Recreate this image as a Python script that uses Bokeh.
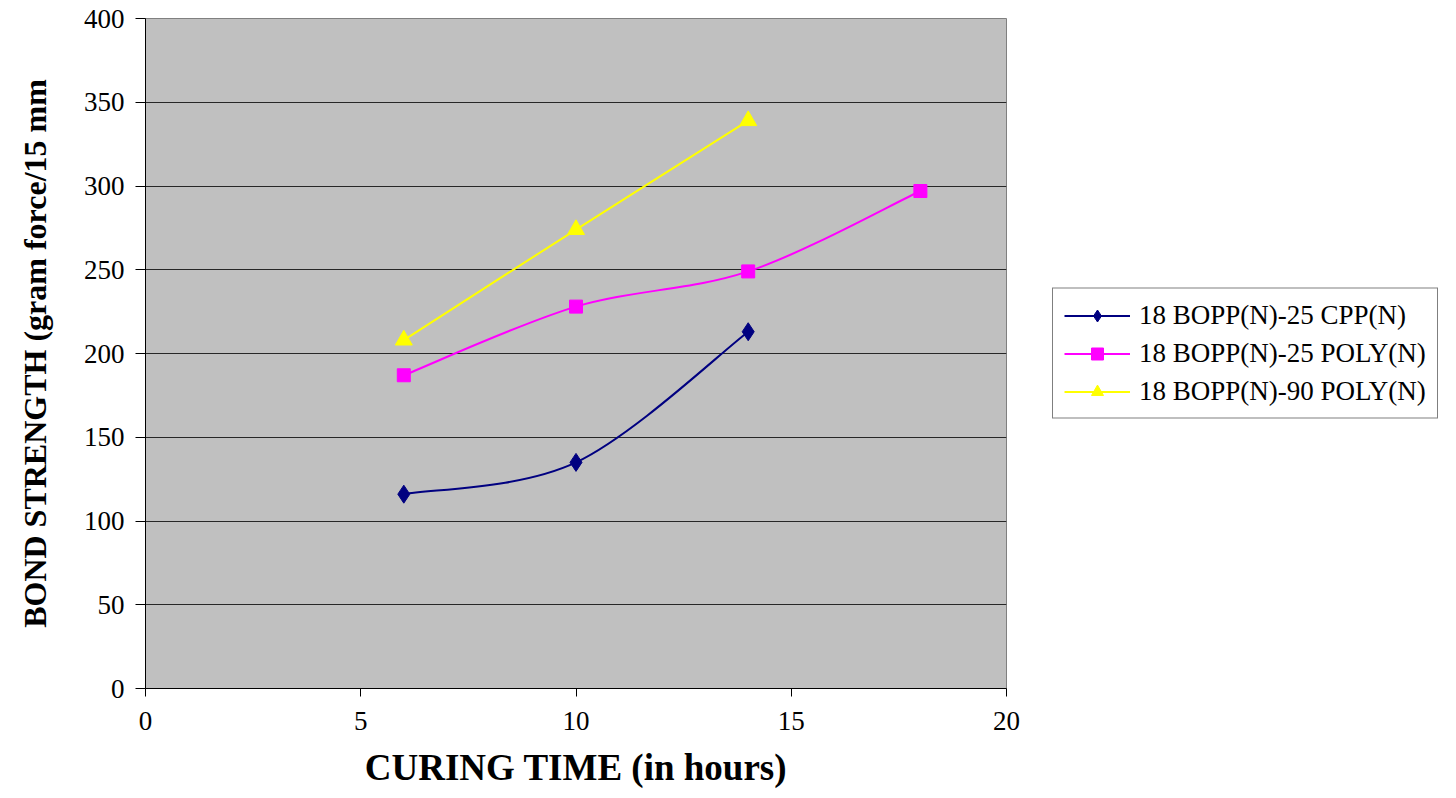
from bokeh.plotting import figure
from bokeh.models import Range1d, FixedTicker, Legend, LegendItem
from bokeh.embed import file_html
from bokeh.resources import INLINE

hours = [6, 10, 14, 18]
cpp25 = [116, 135, 213]
poly25 = [187, 228, 249, 297]
poly90 = [208, 274, 339]
names = ["18 BOPP(N)-25 CPP(N)", "18 BOPP(N)-25 POLY(N)", "18 BOPP(N)-90 POLY(N)"]
colors = ["#000080", "#FF00FF", "#FFFF00"]
x_ticks = [0, 5, 10, 15, 20]
y_ticks = [0, 50, 100, 150, 200, 250, 300, 350, 400]

FONT = "Liberation Serif"

p = figure(frame_width=861, frame_height=670, output_backend="svg", toolbar_location=None,
           x_range=Range1d(0, 20), y_range=Range1d(0, 400),
           min_border_left=145, min_border_right=0, min_border_top=18, min_border_bottom=110)
p.background_fill_color = "#C0C0C0"
p.border_fill_color = "white"
p.outline_line_color = "#808080"
p.xgrid.grid_line_color = None
p.ygrid.grid_line_color = "#000000"
p.ygrid.grid_line_alpha = 0.8

p.xaxis.ticker = FixedTicker(ticks=x_ticks)
p.yaxis.ticker = FixedTicker(ticks=y_ticks)
for ax in (p.xaxis, p.yaxis):
    ax.axis_line_color = "black"
    ax.major_tick_line_color = "black"
    ax.minor_tick_line_color = None
    ax.major_tick_in = 0
    ax.major_label_text_font = FONT
    ax.major_label_text_font_size = "27px"
    ax.major_label_text_color = "black"
    ax.axis_label_text_font = FONT
    ax.axis_label_text_font_style = "bold"
    ax.axis_label_text_color = "black"
p.yaxis.major_tick_out = 10
p.yaxis.major_label_standoff = 11
p.yaxis.axis_label = "BOND STRENGTH (gram force/15 mm"
p.yaxis.axis_label_text_font_size = "32px"
p.yaxis.axis_label_standoff = 28
p.xaxis.major_tick_out = 8
p.xaxis.major_label_standoff = 15
p.xaxis.axis_label = "CURING TIME (in hours)"
p.xaxis.axis_label_text_font_size = "37px"
p.xaxis.axis_label_standoff = 14


def smooth(xs, ys):
    n = len(xs)
    x0, y0, x1, y1, cx0, cy0, cx1, cy1 = [], [], [], [], [], [], [], []
    for i in range(n - 1):
        pxm, pym = (xs[i - 1], ys[i - 1]) if i > 0 else (xs[i], ys[i])
        pxp, pyp = (xs[i + 2], ys[i + 2]) if i + 2 < n else (xs[i + 1], ys[i + 1])
        x0.append(xs[i]); y0.append(ys[i])
        x1.append(xs[i + 1]); y1.append(ys[i + 1])
        cx0.append(xs[i] + (xs[i + 1] - pxm) / 6.0)
        cy0.append(ys[i] + (ys[i + 1] - pym) / 6.0)
        cx1.append(xs[i + 1] - (pxp - xs[i]) / 6.0)
        cy1.append(ys[i + 1] - (pyp - ys[i]) / 6.0)
    return dict(x0=x0, y0=y0, x1=x1, y1=y1, cx0=cx0, cy0=cy0, cx1=cx1, cy1=cy1)


series = [cpp25, poly25, poly90]
markers = ["diamond", "square", "triangle"]
msizes = [18, 13, 17]
items = []
for vals, name, col, mk, ms in zip(series, names, colors, markers, msizes):
    xs = hours[:len(vals)]
    p.bezier(line_color=col, line_width=2, **smooth(xs, vals))
    # single-point line: draws nothing on the plot, provides the legend line
    lg_line = p.line(xs[:1], vals[:1], line_color=col, line_width=2)
    sc = p.scatter(xs, vals, marker=mk, size=ms, fill_color=col, line_color=col)
    items.append(LegendItem(label=name, renderers=[lg_line, sc]))

legend = Legend(items=items, location="center_left")
legend.label_text_font = FONT
legend.label_text_font_size = "27px"
legend.label_text_color = "black"
legend.border_line_color = "black"
legend.border_line_width = 1
legend.background_fill_color = "white"
legend.background_fill_alpha = 1
legend.glyph_width = 66
legend.glyph_height = 30
legend.label_height = 30
legend.label_standoff = 9
legend.spacing = 7
legend.padding = 11
legend.margin = 46
p.add_layout(legend, "right")

open("out.html", "w").write(file_html(p, INLINE))
